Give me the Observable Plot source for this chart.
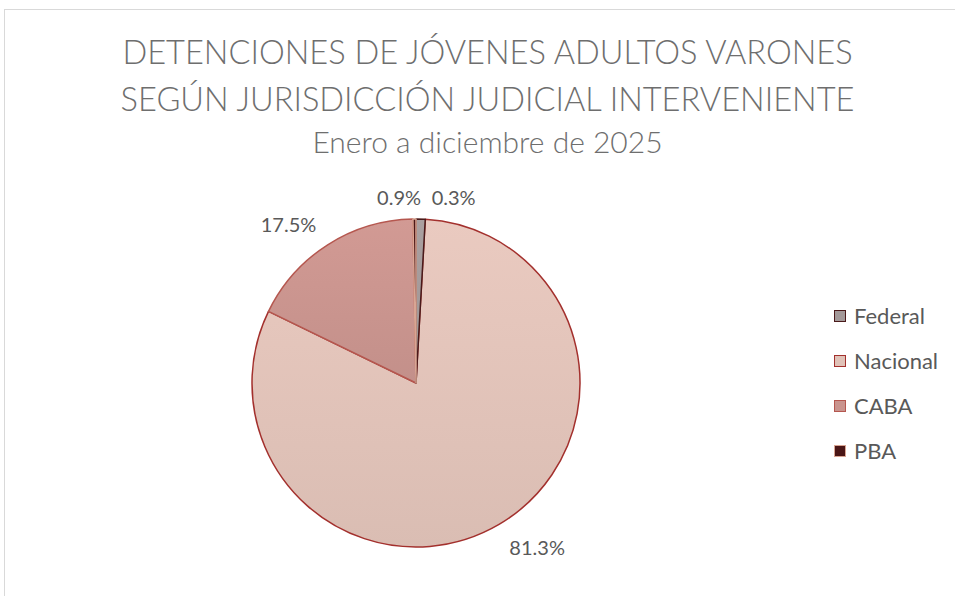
<!DOCTYPE html>
<html>
<head>
<meta charset="utf-8">
<script src="https://cdn.jsdelivr.net/npm/d3@7"></script>
<script src="https://cdn.jsdelivr.net/npm/@observablehq/plot@0.6"></script>
<style>
  html, body { margin: 0; padding: 0; background: #fff; }
  #wrap { position: relative; width: 955px; height: 596px; overflow: hidden; font-family: Lato, "Open Sans", sans-serif; }
  #frame { position: absolute; left: 4px; top: 9px; width: 1000px; height: 700px; border: 1px solid #d9d9d9; box-sizing: border-box; }
  .t { position: absolute; left: 0; width: 975px; text-align: center; color: #6e6e6e; white-space: nowrap; font-weight: 300; }
  #t1 { top: 32px; font-size: 32.6px; }
  #t2 { top: 79px; font-size: 32.6px; }
  #t3 { top: 123px; font-size: 30px; }
  #chart { position: absolute; left: 0; top: 0; }
  #legend { position: absolute; left: 834px; top: 293px; font-size: 22px; color: #595959; }
  .li { display: flex; align-items: center; height: 45px; }
  .sw { width: 10px; height: 10px; border: 1.5px solid; margin-right: 8px; }
</style>
</head>
<body>
<div id="wrap">
  <div id="frame"></div>
  <div class="t" id="t1">DETENCIONES DE JÓVENES ADULTOS VARONES</div>
  <div class="t" id="t2">SEGÚN JURISDICCIÓN JUDICIAL INTERVENIENTE</div>
  <div class="t" id="t3">Enero a diciembre de 2025</div>
  <div id="chart"></div>
  <div id="legend"></div>
</div>
<script>
const categories = ["Federal", "Nacional", "CABA", "PBA"];
const values = [0.9, 81.3, 17.5, 0.3];
const labels = ["0.9%", "81.3%", "17.5%", "0.3%"];
const fills = ["#a39999", "#e0c2b8", "#c9948e", "#4a1616"];
const strokes = ["#4a1a1a", "#a3302d", "#b5574f", "#d9a593"];

// label nudges in pixels (layout only), keyed by category
const labelNudge = {Federal: [-23, 12], Nacional: [21, -5], CABA: [-22, 8], PBA: [39, 12]};

const pieGen = d3.pie().sort(null).value(d => d.value);
const data = categories.map((c, i) => ({category: c, value: values[i], label: labels[i], fill: fills[i], stroke: strokes[i]}));
const arcs = pieGen(data);

const labelData = arcs.map(a => {
  const mid = (a.startAngle + a.endAngle) / 2;
  const r = 1.2;
  return {
    x: r * Math.sin(mid),
    y: r * Math.cos(mid),
    label: a.data.label,
    dx: labelNudge[a.data.category][0],
    dy: labelNudge[a.data.category][1]
  };
});

function pieMark(index, scales, values, dimensions) {
  const cx = scales.x(0), cy = scales.y(0);
  const r = scales.x(1) - scales.x(0);
  const arc = d3.arc().innerRadius(0).outerRadius(r);
  const g = d3.create("svg:g").attr("transform", `translate(${cx},${cy})`);
  const defs = g.append("defs");
  arcs.forEach((a, i) => {
    const lg = defs.append("linearGradient").attr("id", "grad" + i).attr("x1", 0).attr("y1", 0).attr("x2", 0).attr("y2", 1);
    const c = d3.color(a.data.fill);
    lg.append("stop").attr("offset", "0%").attr("stop-color", c.brighter(0.12).formatHex());
    lg.append("stop").attr("offset", "100%").attr("stop-color", c.darker(0.08).formatHex());
  });
  const order = arcs.map((a, i) => i).sort((i, j) => arcs[j].data.value - arcs[i].data.value);
  order.forEach(i => {
    const a = arcs[i];
    g.append("path")
      .attr("d", arc(a))
      .attr("fill", `url(#grad${i})`)
      .attr("stroke", a.data.stroke)
      .attr("stroke-width", 1.5)
      .attr("stroke-linejoin", "round");
  });
  return g.node();
}

const plot = Plot.plot({
  width: 955,
  height: 596,
  margin: 0,
  x: {domain: [-1, 1], range: [252, 580], axis: null},
  y: {domain: [-1, 1], range: [547, 219], axis: null},
  style: {background: "transparent", fontFamily: "Lato, 'Open Sans', sans-serif"},
  marks: [
    pieMark,
    ...labelData.map(d => Plot.text([d], {x: "x", y: "y", text: "label", fontSize: 20, fill: "#595959", dx: d.dx, dy: d.dy}))
  ]
});
document.getElementById("chart").appendChild(plot);

const legend = d3.select("#legend");
data.forEach(d => {
  const row = legend.append("div").attr("class", "li");
  row.append("div").attr("class", "sw").style("background", d.fill).style("border-color", d.stroke);
  row.append("span").text(d.category);
});
</script>
</body>
</html>
